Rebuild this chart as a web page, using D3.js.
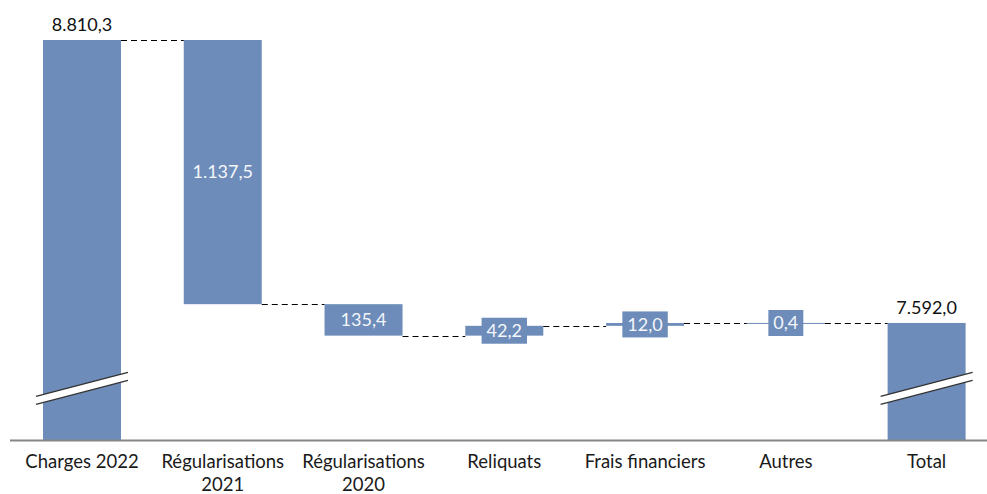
<!DOCTYPE html>
<html>
<head>
<meta charset="utf-8">
<script src="https://cdn.jsdelivr.net/npm/d3@7/dist/d3.min.js"></script>
<style>
  html, body { margin: 0; padding: 0; background: #fff; }
  svg { display: block; }
  text { font-family: Lato, "Open Sans", sans-serif; }
</style>
</head>
<body>
<svg id="chart" width="987" height="494"></svg>
<script>
// Waterfall of charges: opening total, adjustments, closing total
const categories = ["Charges 2022", "Régularisations 2021", "Régularisations 2020", "Reliquats", "Frais financiers", "Autres", "Total"];
const values = [8810.3, -1137.5, -135.4, 42.2, 12.0, 0.4, 7592.0];
const kinds = ["total", "delta", "delta", "delta", "delta", "delta", "total"];
// axis is cut: the value scale starts well above zero
const axisFloor = 7088;
const axisTop = 8810.3;
const breakValue = 7310;

const W = 987, H = 494;
const svg = d3.select("#chart");
const color = "#6d8cb9";

const locale = d3.formatLocale({ decimal: ",", thousands: ".", grouping: [3], currency: ["", " €"] });
const fmt = locale.format(",.1f");

// running start/end for every step
let run = 0;
const steps = categories.map((c, i) => {
  let start, end;
  if (kinds[i] === "total") { start = axisFloor; end = values[i]; run = values[i]; }
  else { start = run; end = run + values[i]; run = end; }
  return { cat: c, value: values[i], kind: kinds[i], start, end, level: run };
});

const x = d3.scaleBand().domain(categories).range([11.6, 997]).paddingInner(0.446).paddingOuter(0.223);
const y = d3.scaleLinear().domain([axisFloor, axisTop]).range([440, 40]);
const bw = x.bandwidth();

// bars
svg.append("g").selectAll("rect").data(steps).join("rect")
  .attr("x", d => x(d.cat))
  .attr("width", bw)
  .attr("y", d => y(Math.max(d.start, d.end)))
  .attr("height", d => Math.max(1, Math.abs(y(d.start) - y(d.end))))
  .attr("fill", color);

// dashed connectors
const conn = svg.append("g");
steps.slice(0, -1).forEach((d, i) => {
  const nx = steps[i + 1];
  conn.append("line")
    .attr("x1", x(d.cat) + bw).attr("x2", x(nx.cat))
    .attr("y1", Math.round(y(d.level)) + 0.5).attr("y2", Math.round(y(d.level)) + 0.5)
    .attr("stroke", "#000").attr("stroke-width", 1.2)
    .attr("stroke-dasharray", "6,4");
});

// break marks on the total bars
const brk = svg.append("g");
steps.filter(d => d.kind === "total").forEach(d => {
  const cx = x(d.cat) + bw / 2, yb = y(breakValue);
  const hw = bw / 2 + 7, rise = 12, gap = 4;
  brk.append("polygon")
    .attr("points", [[cx - hw, yb + rise - gap], [cx + hw, yb - rise - gap], [cx + hw, yb - rise + gap], [cx - hw, yb + rise + gap]].map(p => p.join(",")).join(" "))
    .attr("fill", "#fff");
  [-gap, gap].forEach(g => {
    brk.append("line")
      .attr("x1", cx - hw).attr("y1", yb + rise + g)
      .attr("x2", cx + hw).attr("y2", yb - rise + g)
      .attr("stroke", "#333").attr("stroke-width", 1.3);
  });
});

// horizontal axis
svg.append("line")
  .attr("x1", 10).attr("x2", W).attr("y1", 440.5).attr("y2", 440.5)
  .attr("stroke", "#868686").attr("stroke-width", 2);

// category labels
const cl = svg.append("g").attr("font-size", 18.5).attr("fill", "#1a1a1a").attr("text-anchor", "middle");
steps.forEach(d => {
  const parts = d.cat.startsWith("Régularisations") ? d.cat.split(" ") : [d.cat];
  const t = cl.append("text").attr("x", x(d.cat) + bw / 2).attr("y", 468);
  parts.forEach((p, k) => t.append("tspan").attr("x", x(d.cat) + bw / 2).attr("dy", k ? 23 : 0).text(p));
});

// value labels
const vl = svg.append("g").attr("font-size", 18).attr("text-anchor", "middle");
steps.forEach(d => {
  const cx = x(d.cat) + bw / 2;
  const label = fmt(Math.abs(d.value));
  if (d.kind === "total") {
    vl.append("text").attr("x", cx).attr("y", y(d.end) - 9).attr("fill", "#111").text(label);
  } else {
    const cy = (y(d.start) + y(d.end)) / 2;
    const g = vl.append("g");
    const t = g.append("text").attr("x", cx).attr("y", cy).attr("dy", "0.35em").attr("fill", "#f4f6fb").text(label);
    const tw = t.node().getComputedTextLength();
    g.insert("rect", "text")
      .attr("x", cx - tw / 2 - 5).attr("width", tw + 10)
      .attr("y", cy - 13).attr("height", 26)
      .attr("fill", color);
  }
});
</script>
</body>
</html>
